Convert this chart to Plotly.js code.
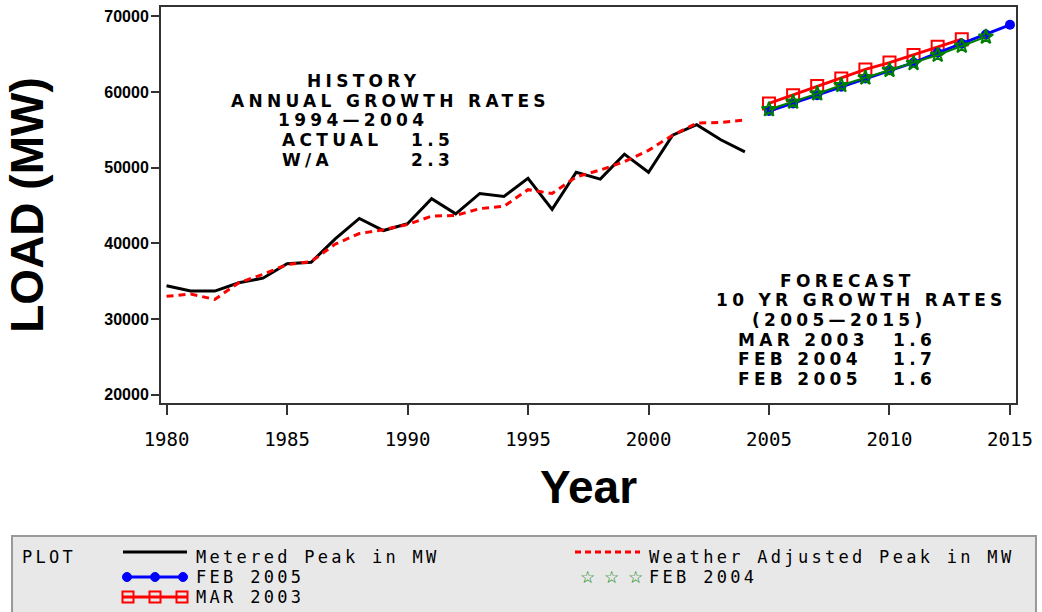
<!DOCTYPE html>
<html>
<head>
<meta charset="utf-8">
<script src="https://cdn.plot.ly/plotly-3.0.1.min.js"></script>
<style>html,body{margin:0;padding:0;background:#fff;}#chart{width:1042px;height:612px;}</style>
</head>
<body>
<div id="chart"></div>
<script>
// ---- data ----
const histYears = [1980,1981,1982,1983,1984,1985,1986,1987,1988,1989,1990,1991,1992,1993,1994,1995,1996,1997,1998,1999,2000,2001,2002,2003,2004];
const meteredPeak = [34400,33700,33700,34800,35400,37300,37500,40600,43300,41700,42600,45900,43900,46600,46200,48600,44500,49400,48500,51800,49400,54300,55700,53700,52100];
const weatherAdjPeak = [33000,33300,32600,34800,35900,37200,37600,39900,41300,41800,42500,43600,43700,44600,44900,47100,46600,48800,49700,50800,52300,54300,55900,56000,56300];

const feb2005Years = [2005,2006,2007,2008,2009,2010,2011,2012,2013,2014,2015];
const feb2005 = [57500,58500,59600,60700,61800,62900,63900,65200,66400,67600,68900];
const feb2004Years = [2005,2006,2007,2008,2009,2010,2011,2012,2013,2014];
const feb2004 = [57700,58700,59800,60900,61900,62900,63800,64900,66100,67300];
const mar2003Years = [2005,2006,2007,2008,2009,2010,2011,2012,2013];
const mar2003 = [58500,59600,60800,61800,63000,63900,64900,66000,67000];

const xTicks = [1980,1985,1990,1995,2000,2005,2010,2015];
const yTicks = [20000,30000,40000,50000,60000,70000];

const seriesNames = ['Metered Peak in MW','Weather Adjusted Peak in MW','FEB 2005','FEB 2004','MAR 2003'];

// ---- layout helpers (pixel -> paper) ----
const L=161, R=1016, T=7, B=403;
const px = p => (p-L)/(R-L);
const py = p => (B-p)/(B-T);
const sp = (t, ls) => '<span style="letter-spacing:' + ls + 'px">' + t + '</span>';

const traces = [
  {x: histYears, y: meteredPeak, name: seriesNames[0], mode:'lines',
   line:{color:'#000000', width:3}},
  {x: histYears, y: weatherAdjPeak, name: seriesNames[1], mode:'lines',
   line:{color:'#ff0000', width:3, dash:'7px,5px'}},
  {x: mar2003Years, y: mar2003, name: seriesNames[4], mode:'lines+markers',
   line:{color:'#ff0000', width:3}, marker:{symbol:'square-open', size:12, color:'#ff0000', line:{width:2}}},
  {x: feb2005Years, y: feb2005, name: seriesNames[2], mode:'lines+markers',
   line:{color:'#0000ff', width:3}, marker:{symbol:'circle', size:10, color:'#0000ff'}},
  {x: feb2004Years, y: feb2004, name: seriesNames[3], mode:'lines+markers',
   line:{color:'#008000', width:2}, marker:{symbol:'star-open', size:11, color:'#008000', line:{width:2}}}
];

const annFont = {family:'DejaVu Sans', size:17, color:'#000'};
function txt(t, x, y){
  return {text: '<b>' + sp(t, 4.3) + '</b>', x: px(x), y: py(y), xref:'paper', yref:'paper',
          xanchor:'left', yanchor:'middle', showarrow:false, font: annFont, borderpad:0, borderwidth:0};
}
const legFont = {family:'DejaVu Sans Mono', size:17, color:'#000'};
function ltxt(t, x, y){
  return {text: sp(t, 3.3), x: px(x), y: py(y), xref:'paper', yref:'paper',
          xanchor:'left', yanchor:'middle', showarrow:false, font: legFont, borderpad:0, borderwidth:0};
}
function star(x, y){
  return {text: '\u2606', x: px(x), y: py(y), xref:'paper', yref:'paper',
          xanchor:'center', yanchor:'middle', showarrow:false,
          font:{family:'DejaVu Sans', size:17, color:'#008000'}, borderpad:0, borderwidth:0};
}

const annotations = [
  txt('HISTORY', 307, 81),
  txt('ANNUAL GROWTH RATES', 231, 101),
  txt('1994\u20142004', 278, 120),
  txt('ACTUAL', 282, 140), txt('1.5', 411, 140),
  txt('W/A', 282, 160), txt('2.3', 411, 160),
  txt('FORECAST', 780, 281),
  txt('10 YR GROWTH RATES', 716, 300),
  txt('(2005\u20142015)', 752, 320),
  txt('MAR 2003', 738, 340), txt('1.6', 893, 340),
  txt('FEB 2004', 738, 359), txt('1.7', 893, 359),
  txt('FEB 2005', 738, 379), txt('1.6', 893, 379),
  // legend texts
  ltxt('PLOT', 22, 557),
  ltxt(seriesNames[0], 196, 557),
  ltxt(seriesNames[1], 649, 557),
  ltxt(seriesNames[2], 196, 577),
  ltxt(seriesNames[3], 649, 577),
  ltxt(seriesNames[4], 196, 597),
  star(587, 577), star(611, 577), star(635, 577)
];

function hline(x0, x1, y, color, width, dash){
  return {type:'line', xref:'paper', yref:'paper', x0:px(x0), x1:px(x1), y0:py(y), y1:py(y),
          line:{color:color, width:width, dash:dash||'solid'}};
}
function dot(x, y, r, color){
  return {type:'circle', xref:'paper', yref:'paper', x0:px(x-r), x1:px(x+r), y0:py(y+r), y1:py(y-r),
          fillcolor:color, line:{color:color, width:1}};
}
function sq(x, y, h, color){
  return {type:'rect', xref:'paper', yref:'paper', x0:px(x-h), x1:px(x+h), y0:py(y+h), y1:py(y-h),
          fillcolor:'rgba(0,0,0,0)', line:{color:color, width:2}};
}

const shapes = [
  {type:'rect', xref:'paper', yref:'paper', x0:px(12), x1:px(1036), y0:py(625), y1:py(536),
   fillcolor:'#e8e8e8', line:{color:'#999999', width:2}, layer:'below'},
  hline(123, 187, 552, '#000000', 3),
  hline(575, 640, 552, '#ff0000', 3, '6px,4px'),
  hline(125, 185, 577, '#0000ff', 3),
  dot(127, 577, 4.5, '#0000ff'), dot(155, 577, 4.5, '#0000ff'), dot(183, 577, 4.5, '#0000ff'),
  hline(123, 187, 597, '#ff0000', 3),
  sq(128, 597, 5.5, '#ff0000'), sq(155, 597, 5.5, '#ff0000'), sq(182, 597, 5.5, '#ff0000')
];

const layout = {
  width:1042, height:612,
  margin:{l:L, r:1042-R, t:T, b:612-B, pad:0},
  paper_bgcolor:'#ffffff', plot_bgcolor:'#ffffff',
  showlegend:false,
  xaxis:{
    range:[1979.77, 2015.25], tickvals:xTicks, ticktext:xTicks.map(String),
    ticks:'outside', ticklen:10, tickwidth:2, tickcolor:'#333',
    showline:true, linecolor:'#333', linewidth:2, mirror:true,
    showgrid:false, zeroline:false, ticklabelstandoff:8,
    tickfont:{family:'DejaVu Sans Mono', size:19, color:'#000'},
    title:{text:'<b>Year</b>', font:{family:'Liberation Sans', size:46, color:'#000'}, standoff:22}
  },
  yaxis:{
    range:[18900, 71250], tickvals:yTicks, ticktext:yTicks.map(String),
    ticks:'outside', ticklen:8, tickwidth:2, tickcolor:'#333',
    showline:true, linecolor:'#333', linewidth:2, mirror:true,
    showgrid:false, zeroline:false, ticklabelstandoff:-1,
    tickfont:{family:'Liberation Sans', size:16, color:'#000', weight:'bold'},
    title:{text:'<b>LOAD (MW)</b>', font:{family:'Liberation Sans', size:46, color:'#000'}, standoff:46}
  },
  shapes: shapes,
  annotations: annotations
};

Plotly.newPlot('chart', traces, layout, {displayModeBar:false, staticPlot:true});
</script>
</body>
</html>
